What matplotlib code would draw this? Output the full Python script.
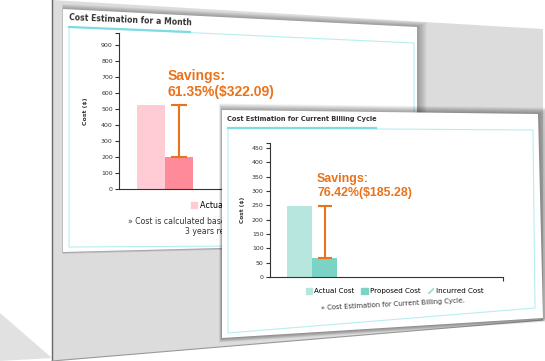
import matplotlib.pyplot as plt
import numpy as np
from matplotlib.patches import Polygon, Patch

# data
cats = ["Actual Cost", "Proposed Cost"]
month_cost = [525.0, 203.0]
month_savings = "Savings:\n61.35%($322.09)"
cycle_cost = [248.0, 65.0]
cycle_savings = "Savings:\n76.42%($185.28)"
month_ticks = list(range(0, 1000, 100))
cycle_ticks = list(range(0, 500, 50))

# colors
pink_light = "#ffcbd4"
pink = "#ff8a99"
teal_light = "#b6e6dd"
teal = "#7ad3c4"
orange = "#e8731c"
cyan = "#b8eef0"
cyan_dark = "#7fdbe3"
grijs = "#dcdcdc"
tekst = "#333333"

W, H = 545, 361
fig = plt.figure(figsize=(W / 100, H / 100), dpi=100)
plt.rcParams['font.family'] = ['DejaVu Sans']
plt.rcParams['hatch.linewidth'] = 1.3


def px_axes(x0, y0, x1, y1, z):
    return fig.add_axes([x0 / W, 1 - y1 / H, (x1 - x0) / W, (y1 - y0) / H], zorder=z)


def deco_axes(z):
    a = fig.add_axes([0, 0, 1, 1], zorder=z)
    a.set_xlim(0, W)
    a.set_ylim(H, 0)
    a.axis("off")
    a.patch.set_alpha(0)
    return a


def shadow(a, pts, steps=6, spread=1.2, dx=0.5, dy=0.3):
    pts = np.array(pts, float)
    c = pts.mean(axis=0)
    for i in range(steps, 0, -1):
        k = i * spread
        p = c + (pts - c) * (1 + k / 250.0) + np.array([k * dx, k * dy])
        a.add_patch(Polygon(p, closed=True, color="black", alpha=0.05, lw=0))


# achtergrond
bg = deco_axes(0)
bg.add_patch(Polygon([(0, 313), (52, 358), (0, 361)], color="#d5d5d5", lw=0, alpha=0.7))
bg.add_patch(Polygon([(52, 0), (543, 29), (543, 320), (52, 361)], color=grijs, lw=0))
bg.plot([52, 52], [0, 361], color="#666666", lw=1)
bg.plot([52, 543], [361, 320], color="#999999", lw=0.8)

# kaart 1
card1 = [(63, 9), (417, 27), (417, 243), (63, 252)]
shadow(bg, card1, dx=0.6, dy=-0.2)
bg.add_patch(Polygon(card1, color="white", lw=0))
bg.add_patch(Polygon([(69, 27), (414, 43), (414, 245), (69, 247)], fill=False, ec=cyan, lw=0.8))
bg.plot([69, 190], [27, 32], color=cyan_dark, lw=1.6)
bg.text(69, 18, "Cost Estimation for a Month", fontsize=5.6, fontweight="bold",
        color=tekst, rotation=-2.5, ha="left", va="center", rotation_mode="anchor")
bg.text(128, 222, "» Cost is calculated based on",
        fontsize=5.6, color=tekst, ha="left", va="center")
bg.text(185, 232, "3 years reserved", fontsize=5.6, color=tekst,
        ha="left", va="center")

ax1 = px_axes(119, 33, 420, 189, 1)
x = np.arange(len(cats))
ax1.bar(x, month_cost, width=1.0, color=[pink_light, pink])
ax1.errorbar(x[1], month_cost[1], yerr=[[0], [month_cost[0] - month_cost[1]]],
             color=orange, lw=1.5, capsize=5.5, capthick=1.5)
ax1.text(x[1] - 0.4, month_cost[0] + 40, month_savings, color=orange, fontsize=10,
         fontweight="bold", family="Liberation Sans", ha="left", va="bottom",
         linespacing=1.15)
ax1.set_xlim(-1.14, 9.6)
ax1.set_ylim(0, 975)
ax1.set_yticks(month_ticks)
ax1.set_yticks([975], minor=True)
ax1.set_ylabel("Cost ($)", fontsize=4.5, fontweight="bold", color=tekst, labelpad=9)
ax1.legend(handles=[Patch(color=pink_light, label="Actual Cost")],
           loc="center left", bbox_to_anchor=(187 / W, 1 - 205 / H),
           bbox_transform=fig.transFigure, frameon=False, fontsize=5.8,
           handlelength=0.8, handleheight=0.8, handletextpad=0.3, borderpad=0)

# kaart 2
ov = deco_axes(2)
card2 = [(222, 110), (538, 114), (543, 318), (222, 338)]
shadow(ov, card2, steps=8, spread=1.5, dx=0.4, dy=-0.1)
ov.add_patch(Polygon(card2, color="white", lw=0))
ov.add_patch(Polygon([(228, 128), (533, 130), (535, 308), (228, 333)], fill=False, ec=cyan, lw=0.8))
ov.plot([228, 376], [128, 128], color=cyan_dark, lw=1.6)
ov.text(227, 119, "Cost Estimation for Current Billing Cycle", fontsize=4.75,
        fontweight="bold", color=tekst, ha="left", va="center")
ov.text(393, 304, "» Cost Estimation for Current Billing Cycle.", fontsize=4.9,
        color=tekst, ha="center", va="center", rotation=3)

ax2 = px_axes(270, 143, 503, 277, 3)
ax2.bar(x, cycle_cost, width=1.0, color=[teal_light, teal])
ax2.errorbar(x[1], cycle_cost[1], yerr=[[0], [cycle_cost[0] - cycle_cost[1]]],
             color=orange, lw=1.5, capsize=5, capthick=1.5)
ax2.text(x[1] - 0.3, cycle_cost[0] + 25, cycle_savings, color=orange, fontsize=8.9,
         fontweight="bold", family="Liberation Sans", ha="left", va="bottom",
         linespacing=1.15)
ax2.set_xlim(-1.18, 8.14)
ax2.set_ylim(0, 467)
ax2.set_yticks(cycle_ticks)
ax2.set_yticks([467], minor=True)
ax2.set_xticks([8.14], minor=True)
ax2.set_ylabel("Cost ($)", fontsize=4.2, fontweight="bold", color=tekst, labelpad=5)
ax2.legend(handles=[Patch(color=teal_light, label="Actual Cost"),
                    Patch(color=teal, label="Proposed Cost"),
                    Patch(facecolor="white", edgecolor="#9adfd3", hatch="///", lw=0,
                          label="Incurred Cost")],
           loc="center left", bbox_to_anchor=(302 / W, 1 - 291 / H),
           bbox_transform=fig.transFigure, ncol=3, frameon=False, fontsize=5.1,
           handlelength=0.9, handleheight=0.9, handletextpad=0.3, columnspacing=1.0,
           borderpad=0)

for a in (ax1, ax2):
    a.patch.set_alpha(0)
    for s in ("top", "right"):
        a.spines[s].set_visible(False)
    a.spines["left"].set_color(tekst)
    a.spines["bottom"].set_color(tekst)
    a.set_xticks([])
    a.tick_params(axis="y", which="both", labelsize=4.5, colors=tekst, length=3,
                  width=0.8, pad=1.5)
ax2.tick_params(axis="x", which="minor", colors=tekst, length=3, width=0.8)

fig.savefig("out.png", dpi=100)
